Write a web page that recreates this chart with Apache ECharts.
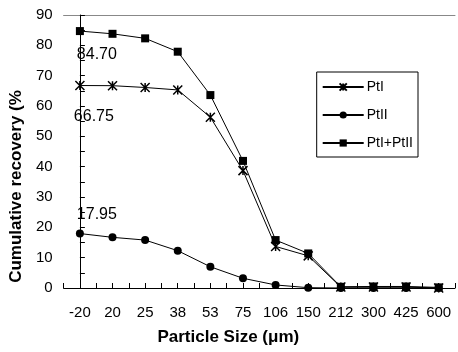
<!DOCTYPE html>
<html>
<head>
<meta charset="utf-8">
<script src="https://cdn.jsdelivr.net/npm/echarts@6/dist/echarts.min.js"></script>
<style>
  html, body { margin: 0; padding: 0; background: #fff; }
  #chart { width: 458px; height: 352px; }
</style>
</head>
<body>
<div id="chart"></div>
<script>
var sizes = ['-20', '20', '25', '38', '53', '75', '106', '150', '212', '300', '425', '600'];
var ptI = [66.75, 66.7, 66.1, 65.3, 56.3, 38.7, 13.7, 10.6, 0.3, 0.3, 0.3, 0.0];
var ptII = [17.95, 16.7, 15.8, 12.3, 7.0, 3.2, 1.0, 0.1, 0.0, 0.0, 0.0, 0.0];
var ptSum = [84.70, 83.8, 82.3, 77.9, 63.6, 41.9, 15.8, 11.4, 0.4, 0.5, 0.5, 0.2];

var font = 'Liberation Sans';
var starPath = 'path://M0,0L10,10M10,0L0,10M5,0L5,10';

function pairs(arr, labelCfg) {
    var out = [];
    for (var i = 0; i < arr.length; i++) {
        var item = { value: [i, arr[i]] };
        if (i === 0 && labelCfg) item.label = labelCfg;
        out.push(item);
    }
    return out;
}

function firstLabel(txt, offset) {
    return {
        show: true,
        position: 'inside',
        offset: offset,
        formatter: txt,
        color: '#000',
        fontFamily: font,
        fontSize: 16
    };
}

var chart = echarts.init(document.getElementById('chart'));
var option = {
    backgroundColor: '#fff',
    animation: false,
    grid: { left: 63, right: 0, top: 15, bottom: 64 },
    legend: {
        right: 40,
        top: 72,
        orient: 'vertical',
        backgroundColor: '#fff',
        borderColor: '#000',
        borderWidth: 1,
        borderRadius: 0,
        padding: [8, 5, 7, 5],
        itemGap: 14,
        itemWidth: 41,
        itemHeight: 9,
        textStyle: { fontFamily: font, fontSize: 14, color: '#000', padding: [0, 0, 0, -2] },
        data: ['PtI', 'PtII', 'PtI+PtII']
    },
    xAxis: [{
        type: 'value',
        position: 'bottom',
        min: -0.5,
        max: 11.5,
        interval: 0.5,
        name: 'Particle Size (μm)',
        nameLocation: 'middle',
        nameGap: 41,
        nameTextStyle: { fontFamily: font, fontSize: 17, fontWeight: 'bold', color: '#000', padding: [0, 62, 0, 0] },
        axisLine: { lineStyle: { color: '#000', width: 1 } },
        axisTick: { inside: true, length: 5, lineStyle: { color: '#000' } },
        splitLine: { show: false },
        axisLabel: {
            fontFamily: font, fontSize: 15, color: '#000', margin: 17,
            showMinLabel: true, showMaxLabel: true,
            formatter: function (v) {
                var i = Math.round(v);
                return Math.abs(v - i) < 1e-6 && sizes[i] !== undefined ? sizes[i] : '';
            }
        }
    }, {
        type: 'value',
        position: 'top',
        min: -0.5,
        max: 11.5,
        axisLine: { show: true, lineStyle: { color: '#888', width: 1 } },
        axisTick: { show: false },
        axisLabel: { show: false },
        splitLine: { show: false }
    }],
    yAxis: {
        type: 'value',
        min: 0,
        max: 90,
        interval: 10,
        name: 'Cumulative recovery (%',
        nameLocation: 'middle',
        nameGap: 36,
        nameTextStyle: { fontFamily: font, fontSize: 17, fontWeight: 'bold', color: '#000', padding: [0, 70, 0, 0] },
        axisLine: { show: true, lineStyle: { color: '#000', width: 1 } },
        axisTick: { inside: true, length: 5, lineStyle: { color: '#000' } },
        minorTick: { show: true, splitNumber: 2, length: 5, lineStyle: { color: '#000' } },
        splitLine: { show: false },
        axisLabel: { fontFamily: font, fontSize: 15, color: '#000', margin: 11 }
    },
    series: [{
        name: 'PtI',
        type: 'line',
        data: pairs(ptI, firstLabel('66.75', [14, 31])),
        symbol: starPath,
        symbolSize: 9,
        lineStyle: { color: '#000', width: 1 },
        itemStyle: { color: '#000', borderColor: '#000', borderWidth: 1.5 }
    }, {
        name: 'PtII',
        type: 'line',
        data: pairs(ptII, firstLabel('17.95', [17, -19])),
        symbol: 'circle',
        symbolSize: 8,
        lineStyle: { color: '#000', width: 1 },
        itemStyle: { color: '#000' }
    }, {
        name: 'PtI+PtII',
        type: 'line',
        data: pairs(ptSum, firstLabel('84.70', [17, 24])),
        symbol: 'rect',
        symbolSize: 8,
        lineStyle: { color: '#000', width: 1 },
        itemStyle: { color: '#000' }
    }]
};
chart.setOption(option);
</script>
</body>
</html>
